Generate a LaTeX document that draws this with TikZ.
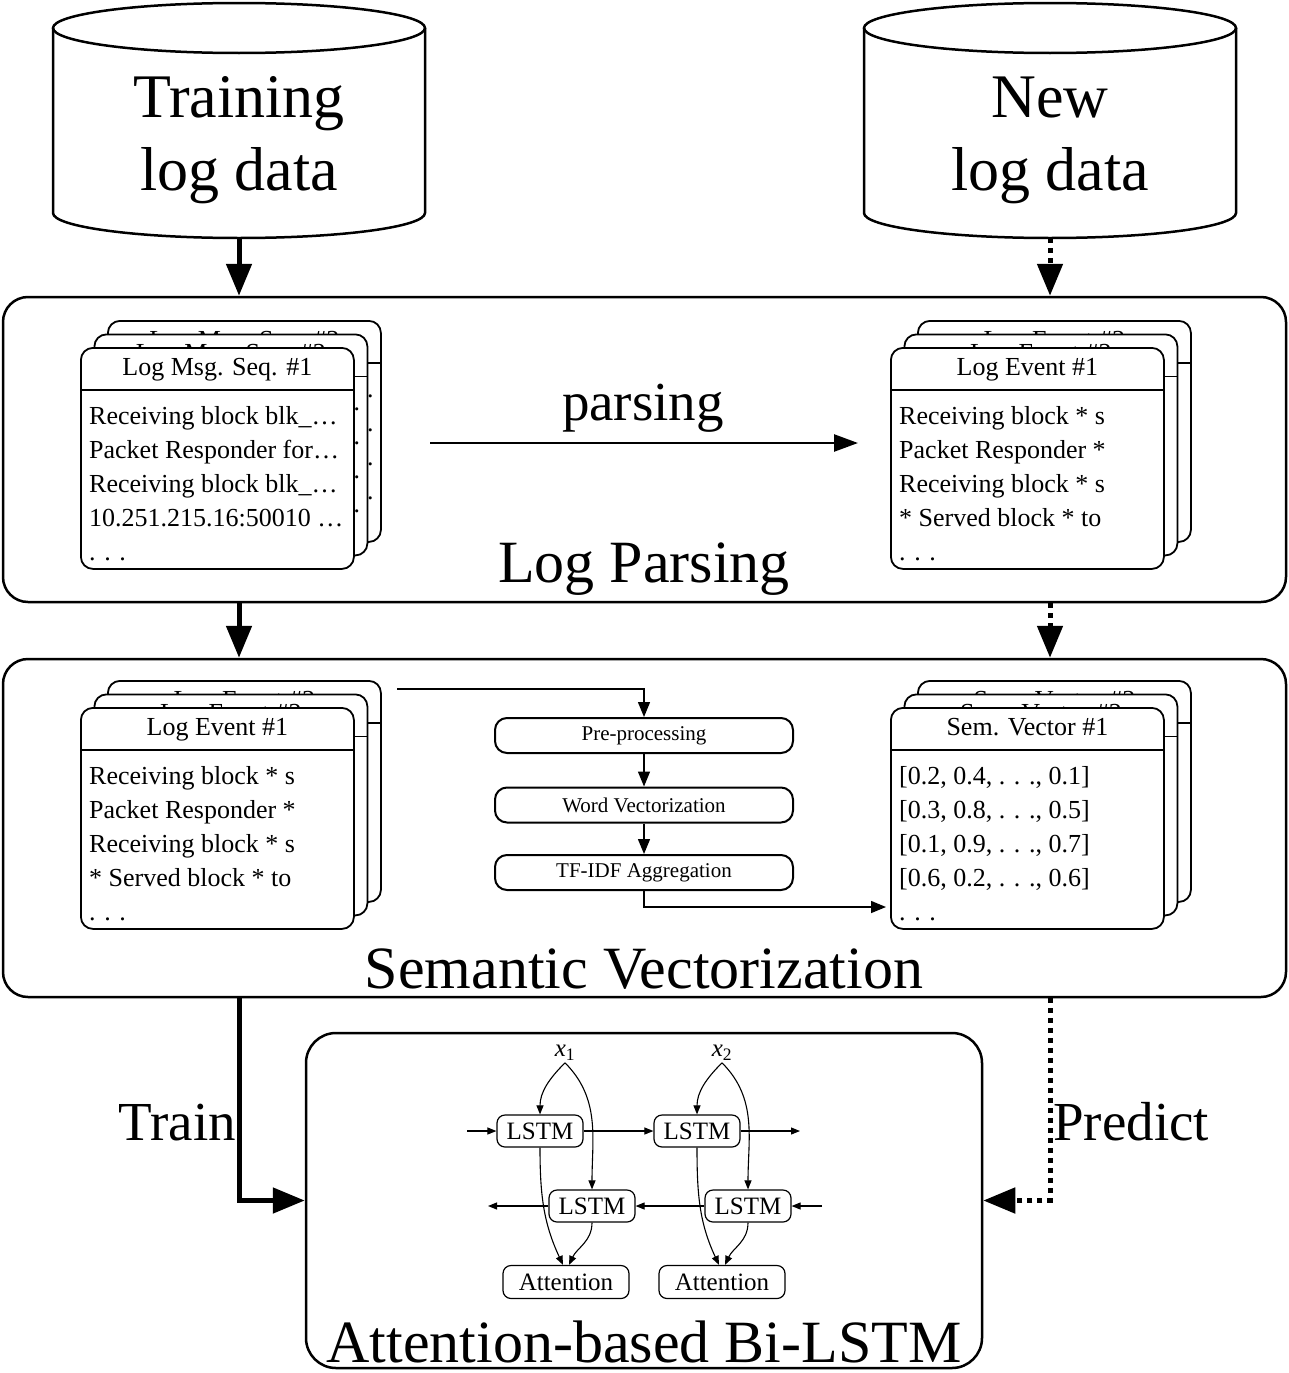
\documentclass[tikz,border=0pt]{standalone}
\usepackage{fontspec}
\setmainfont{Liberation Serif}
\usetikzlibrary{arrows.meta}
\newcommand\myfs[2]{\fontsize{#1}{#2}\selectfont}
\newcommand\mydots{.\hspace{0.33em}.\hspace{0.33em}.}
\tikzset{
 bigbox/.style={draw, line width=2.5pt, rounded corners=25pt, inner sep=0pt},
 card/.style={draw, fill=white, line width=1.8pt, rounded corners=12pt, minimum width=273pt, minimum height=221pt, inner sep=0pt, anchor=north west},
 cardline/.style={line width=1.8pt},
 cardtxt/.style={font=\myfs{26}{34}, inner sep=0pt},
 biglabel/.style={font=\myfs{60}{72}, inner sep=0pt},
 cyltxt/.style={font=\myfs{62}{74}, inner sep=0pt},
 sidelabel/.style={font=\myfs{55}{66}, inner sep=0pt},
 cyl/.style={line width=2.5pt},
 flowthick/.style={line width=5pt, -{Triangle[length=32pt,width=25pt]}},
 flowdot/.style={line width=5pt, dash pattern=on 5pt off 5pt, -{Triangle[length=32pt,width=25pt]}},
 parsearrow/.style={line width=2.5pt, -{Triangle[length=24pt,width=17pt]}},
 procbox/.style={draw, line width=2pt, rounded corners=12pt, minimum width=298pt, minimum height=35pt, inner sep=0pt, font=\myfs{21}{25}},
 procarrow/.style={line width=1.4pt, -{Triangle[length=15pt,width=12pt]}},
 lstmbox/.style={draw, line width=1.2pt, rounded corners=8pt, minimum width=86pt, minimum height=32pt, inner sep=0pt, font=\myfs{25}{30}},
 attbox/.style={lstmbox, minimum width=126pt, minimum height=33pt},
 netarrow/.style={line width=1.1pt, -{Triangle[length=9pt,width=7pt]}},
}
% #1 name, #2 x, #3 y, #4 title prefix, #5 lines of the front card, #6 = 1 if back cards show line tails
\newcommand\cardstack[6]{%
 \foreach \k in {2,1,0}{
   \pgfmathsetmacro\cx{#2+13.5*\k}
   \pgfmathsetmacro\cy{#3-13.5*\k}
   \pgfmathtruncatemacro\cn{\k+1}
   \node[card] (#1\k) at (\cx,\cy) {};
   \draw[cardline] ([yshift=-43pt]#1\k.north west) -- ([yshift=-43pt]#1\k.north east);
   \node[cardtxt, anchor=base] (#1t\k) at ([yshift=-28pt]#1\k.north) {#4\cn};
   \ifnum\k=0
     \foreach \linetext [count=\i] in {#5}{
       \node[cardtxt, anchor=base west] (#1l\i) at ([xshift=9pt,yshift={-77pt-34pt*(\i-1)}]#1\k.north west) {\linetext};
     }
   \else
     \ifnum#6=1
       \foreach \i in {1,...,4}{
         \node[cardtxt, anchor=base east] (#1e\k\i) at ([xshift=-7pt,yshift={-77pt-34pt*(\i-1)}]#1\k.north east) {…};
       }
     \fi
   \fi
 }
}
\begin{document}
\begin{tikzpicture}[x=1pt,y=-1pt]
\fill[white] (0,0) rectangle (1288,1373);
\useasboundingbox (0,0) rectangle (1288,1373);

% cylinders
\draw[cyl] (53,28) -- (53,213) arc[start angle=180, end angle=360, x radius=186pt, y radius=25pt] -- (425,28);
\draw[cyl] (239,28) ellipse [x radius=186pt, y radius=25pt];
\node[cyltxt, anchor=base] (tr1) at (239,117) {Training};
\node[cyltxt, anchor=base] (tr2) at (239,190) {log data};
\coordinate (trbot) at (239,238);

\draw[cyl] (864,28) -- (864,213) arc[start angle=180, end angle=360, x radius=186pt, y radius=25pt] -- (1236,28);
\draw[cyl] (1050,28) ellipse [x radius=186pt, y radius=25pt];
\node[cyltxt, anchor=base] (nw1) at (1050,117) {New};
\node[cyltxt, anchor=base] (nw2) at (1050,190) {log data};
\coordinate (nwbot) at (1050,238);

% big boxes
\node[bigbox, minimum width=1283pt, minimum height=305pt] (lp) at (644.5,449.5) {};
\node[bigbox, minimum width=1283pt, minimum height=338pt] (sv) at (644.5,828) {};
\node[bigbox, rounded corners=30pt, minimum width=676pt, minimum height=335pt] (bl) at (644,1200.5) {};

\node[biglabel, anchor=base] (lplab) at (644,582) {Log Parsing};
\node[biglabel, anchor=base] (svlab) at (644,988) {Semantic Vectorization};
\node[biglabel, anchor=base] (bllab) at (644,1362) {Attention-based Bi-LSTM};

% flow arrows
\draw[flowthick] (trbot) -- (trbot |- lp.north);
\draw[flowdot] (nwbot) -- (nwbot |- lp.north);
\draw[flowthick] (lp.south -| trbot) -- (sv.north -| trbot);
\draw[flowdot] (lp.south -| nwbot) -- (sv.north -| nwbot);
\draw[flowthick] (sv.south -| trbot) |- (bl.west);
\draw[flowdot] (sv.south -| nwbot) |- (bl.east);
\node[sidelabel, anchor=base east] (train) at (236,1140) {Train};
\node[sidelabel, anchor=base west] (pred) at (1053,1140) {Predict};

% log parsing content
\cardstack{lpa}{80}{347}{Log Msg. Seq. \#}{{Receiving block blk\_…},{Packet Responder for…},{Receiving block blk\_…},{10.251.215.16:50010 …},{\mydots}}{1}
\cardstack{lpb}{890}{347}{Log Event \#}{{Receiving block * s},{Packet Responder *},{Receiving block * s},{* Served block * to},{\mydots}}{0}
\node[sidelabel, anchor=base] (parsing) at (643,420) {parsing};
\coordinate (pa) at (430,443);
\coordinate (pb) at (858,443);
\draw[parsearrow] (pa) -- (pb);

% semantic vectorization content
\cardstack{sva}{80}{707}{Log Event \#}{{Receiving block * s},{Packet Responder *},{Receiving block * s},{* Served block * to},{\mydots}}{0}
\cardstack{svb}{890}{707}{Sem. Vector \#}{{[0.2, 0.4, \mydots, 0.1]},{[0.3, 0.8, \mydots, 0.5]},{[0.1, 0.9, \mydots, 0.7]},{[0.6, 0.2, \mydots, 0.6]},{\mydots}}{0}
\node[procbox] (pre) at (644,735.5) {Pre-processing};
\node[procbox] (wv) at (644,805) {Word Vectorization};
\node[procbox] (tf) at (644,872.5) {TF-IDF Aggregation};
\coordinate (svin) at (397,689);
\coordinate (svout) at (886,907);
\draw[procarrow] (svin) -| (pre.north);
\draw[procarrow] (pre) -- (wv);
\draw[procarrow] (wv) -- (tf);
\draw[procarrow] (tf.south) |- (svout);

% Bi-LSTM content
\node[lstmbox] (t1) at (540,1131) {LSTM};
\node[lstmbox] (t2) at (697,1131) {LSTM};
\node[lstmbox] (b1) at (592,1206) {LSTM};
\node[lstmbox] (b2) at (748,1206) {LSTM};
\node[attbox] (a1) at (566,1282) {Attention};
\node[attbox] (a2) at (722,1282) {Attention};
\node[font=\myfs{25}{30}, inner sep=2pt] (x1) at (565,1053) {\textit{x}\textsubscript{1}};
\node[font=\myfs{25}{30}, inner sep=2pt] (x2) at (722,1053) {\textit{x}\textsubscript{2}};
\coordinate (tin) at (467,1131);
\coordinate (tout) at (800,1131);
\coordinate (bin) at (822,1206);
\coordinate (bout) at (488,1206);
\draw[netarrow] (tin) -- (t1);
\draw[netarrow] (t1) -- (t2);
\draw[netarrow] (t2) -- (tout);
\draw[netarrow] (bin) -- (b2);
\draw[netarrow] (b2) -- (b1);
\draw[netarrow] (b1) -- (bout);
\draw[netarrow] (x1.south) to[out=-135,in=90] (t1.north);
\draw[netarrow] (x1.south) to[out=-45,in=90] (b1.north);
\draw[netarrow] (x2.south) to[out=-135,in=90] (t2.north);
\draw[netarrow] (x2.south) to[out=-45,in=90] (b2.north);
\draw[netarrow] (t1.south) to[out=-90,in=115] ([xshift=-3pt]a1.north);
\draw[netarrow] (b1.south) to[out=-90,in=65] ([xshift=3pt]a1.north);
\draw[netarrow] (t2.south) to[out=-90,in=115] ([xshift=-3pt]a2.north);
\draw[netarrow] (b2.south) to[out=-90,in=65] ([xshift=3pt]a2.north);
\end{tikzpicture}
\end{document}
